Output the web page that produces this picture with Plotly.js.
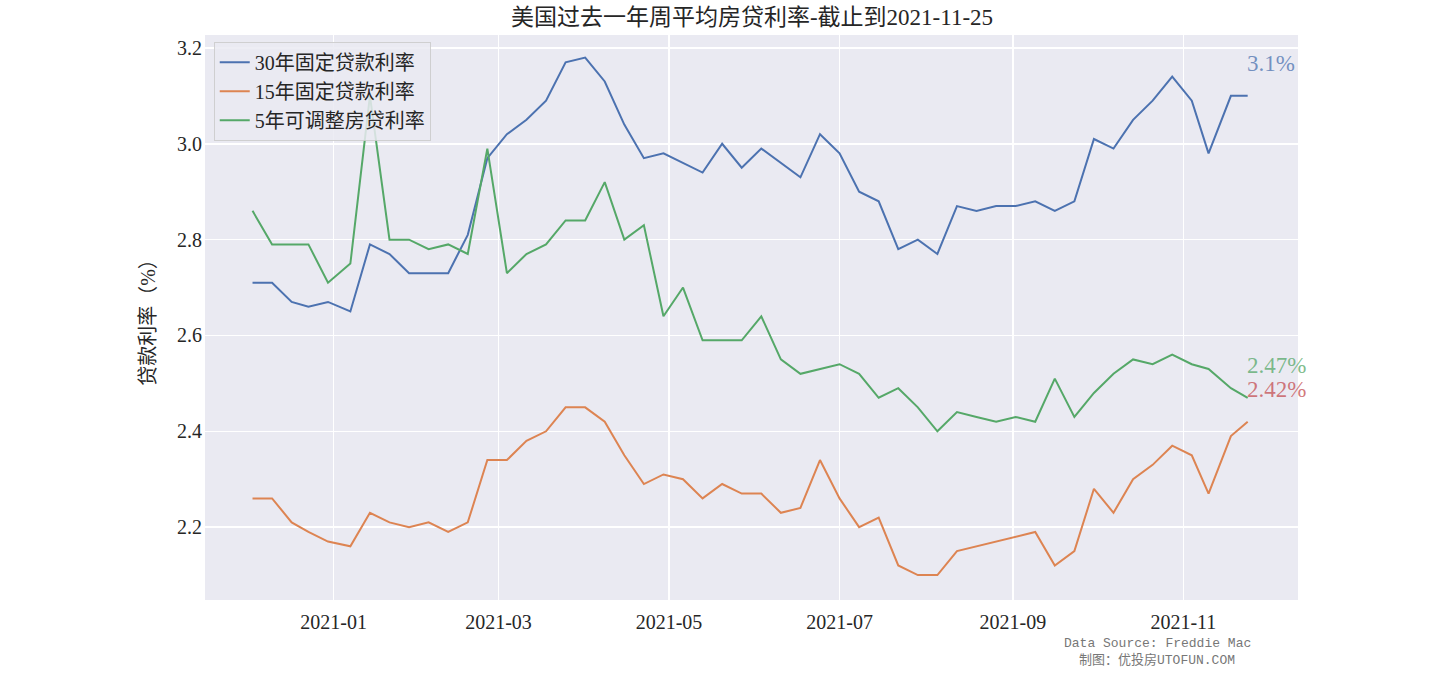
<!DOCTYPE html>
<html><head><meta charset="utf-8">
<script src="https://cdn.plot.ly/plotly-3.0.1.min.js"></script>
<style>html,body{margin:0;padding:0;background:#fff}#chart{width:1442px;height:676px}</style>
</head><body><div id="chart"></div>
<script>
const dates = ["2020-12-03","2020-12-10","2020-12-17","2020-12-23","2020-12-30",
"2021-01-07","2021-01-14","2021-01-21","2021-01-28","2021-02-04","2021-02-11","2021-02-18","2021-02-25",
"2021-03-04","2021-03-11","2021-03-18","2021-03-25","2021-04-01","2021-04-08","2021-04-15","2021-04-22","2021-04-29",
"2021-05-06","2021-05-13","2021-05-20","2021-05-27","2021-06-03","2021-06-10","2021-06-17","2021-06-24",
"2021-07-01","2021-07-08","2021-07-15","2021-07-22","2021-07-29","2021-08-05","2021-08-12","2021-08-19","2021-08-26",
"2021-09-02","2021-09-09","2021-09-16","2021-09-23","2021-09-30","2021-10-07","2021-10-14","2021-10-21","2021-10-28",
"2021-11-04","2021-11-10","2021-11-18","2021-11-24"];
const rate30 = [2.71,2.71,2.67,2.66,2.67,2.65,2.79,2.77,2.73,2.73,2.73,2.81,2.97,
3.02,3.05,3.09,3.17,3.18,3.13,3.04,2.97,2.98,2.96,2.94,3.00,2.95,2.99,2.96,2.93,3.02,
2.98,2.90,2.88,2.78,2.80,2.77,2.87,2.86,2.87,2.87,2.88,2.86,2.88,3.01,2.99,3.05,3.09,3.14,
3.09,2.98,3.10,3.10];
const rate15 = [2.26,2.26,2.21,2.19,2.17,2.16,2.23,2.21,2.20,2.21,2.19,2.21,2.34,
2.34,2.38,2.40,2.45,2.45,2.42,2.35,2.29,2.31,2.30,2.26,2.29,2.27,2.27,2.23,2.24,2.34,
2.26,2.20,2.22,2.12,2.10,2.10,2.15,2.16,2.17,2.18,2.19,2.12,2.15,2.28,2.23,2.30,2.33,2.37,
2.35,2.27,2.39,2.42];
const rate5arm = [2.86,2.79,2.79,2.79,2.71,2.75,3.10,2.80,2.80,2.78,2.79,2.77,2.99,
2.73,2.77,2.79,2.84,2.84,2.92,2.80,2.83,2.64,2.70,2.59,2.59,2.59,2.64,2.55,2.52,2.53,
2.54,2.52,2.47,2.49,2.45,2.40,2.44,2.43,2.42,2.43,2.42,2.51,2.43,2.48,2.52,2.55,2.54,2.56,
2.54,2.53,2.49,2.47];
const seriesNames = ["30年固定贷款利率","15年固定贷款利率","5年可调整房贷利率"];
const xTickVals = ["2021-01-01","2021-03-01","2021-05-01","2021-07-01","2021-09-01","2021-11-01"];
const xTickText = ["2021-01","2021-03","2021-05","2021-07","2021-09","2021-11"];
const yTickVals = [2.2,2.4,2.6,2.8,3.0,3.2];
const lastLabels = ["3.1%","2.42%","2.47%"];
const titleText = "美国过去一年周平均房贷利率-截止到2021-11-25";
const yTitle = "贷款利率（%）";
const sourceLines = ["Data Source: Freddie Mac","制图：优投房UTOFUN.COM"];

const FONT = "'Liberation Serif', 'DejaVu Serif', 'Noto Sans CJK SC', serif";
const colors = ["#4C72B0","#DD8452","#55A868"];
const labelColors = ["rgba(76,114,176,0.75)","rgba(196,78,82,0.75)","rgba(85,168,104,0.75)"];
const allSeries = [rate30, rate15, rate5arm];

const traces = allSeries.map((s,i)=>({
  x: dates, y: s, type:'scatter', mode:'lines', name: seriesNames[i],
  line:{color:colors[i], width:2}
}));

const last = dates.length-1;
const annotations = allSeries.map((s,i)=>({
  x: dates[last], y: s[last]+0.05, xref:'x', yref:'y', text: lastLabels[i],
  showarrow:false, xanchor:'left', yanchor:'bottom', xshift:-3, yshift:-6,
  font:{family:FONT, size:23, color:labelColors[i]}
}));
const srcX = (1157-205)/(1298-205);
annotations.push({
  x: srcX, y: -(643-600)/565, xref:'paper', yref:'paper', text: sourceLines[0], showarrow:false,
  xanchor:'center', yanchor:'middle',
  font:{family:"'Liberation Mono', monospace", size:13, color:'#777'}
});
annotations.push({
  x: srcX, y: -(660-600)/565, xref:'paper', yref:'paper', text: sourceLines[1], showarrow:false,
  xanchor:'center', yanchor:'middle',
  font:{family:"'Liberation Mono', 'Noto Sans CJK SC', monospace", size:13, color:'#777'}
});

const layout = {
  width:1442, height:676,
  paper_bgcolor:'#ffffff', plot_bgcolor:'#EAEAF2',
  margin:{l:205, r:144, t:35, b:76},
  font:{family:FONT, color:'#262626'},
  title:{text:titleText, x:(752)/1442, xanchor:'center', y:0.975, yanchor:'middle',
         font:{family:FONT, size:23, color:'#262626'}},
  xaxis:{type:'date', range:['2020-11-16','2021-12-12'], tickvals:xTickVals, ticktext:xTickText,
         showgrid:true, gridcolor:'#ffffff', gridwidth:1.5, zeroline:false, showline:false,
         ticks:'', ticklen:0, ticklabelstandoff:8, tickfont:{family:FONT, size:20, color:'#262626'}},
  yaxis:{range:[2.048,3.227], tickvals:yTickVals, tickformat:'.1f',
         showgrid:true, gridcolor:'#ffffff', gridwidth:1.5, zeroline:false, showline:false,
         ticks:'', ticklen:0, ticklabelstandoff:2, tickfont:{family:FONT, size:20, color:'#262626'},
         title:{text:yTitle, standoff:16, font:{family:FONT, size:20, color:'#262626'}}},
  showlegend:true,
  legend:{x:0.008, y:0.988, xanchor:'left', yanchor:'top',
          bgcolor:'rgba(234,234,242,0.85)', bordercolor:'rgba(204,204,204,0.9)', borderwidth:1,
          font:{family:FONT, size:20, color:'#262626'}, tracegroupgap:0},
  annotations: annotations
};
Plotly.newPlot('chart', traces, layout, {displayModeBar:false, staticPlot:true});
</script></body></html>
